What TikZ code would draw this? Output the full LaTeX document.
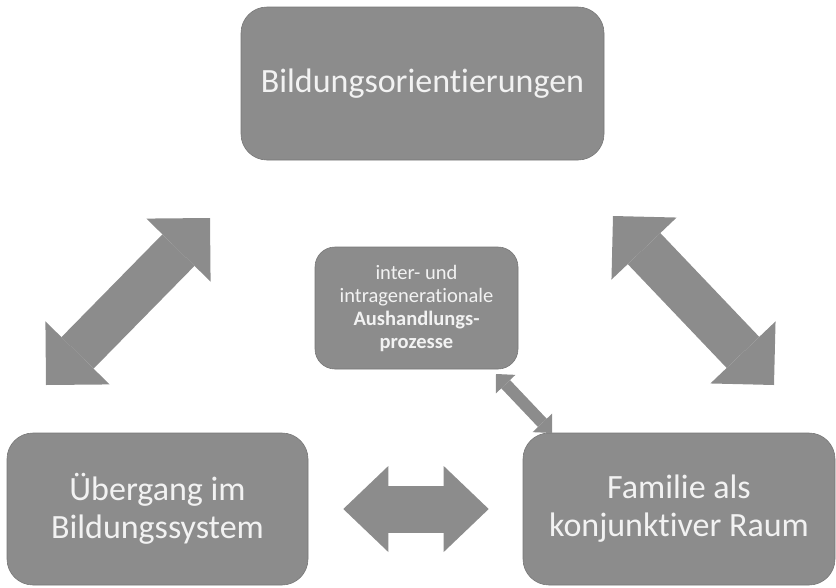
\documentclass[tikz,border=0pt]{standalone}
\usepackage{fontspec}
\setmainfont{Carlito}[Ligatures=NoCommon]
\usetikzlibrary{arrows.meta}
\definecolor{boxgray}{HTML}{8C8C8C}
\definecolor{boxtext}{HTML}{F2F2F2}
\tikzset{
  box/.style={fill=boxgray, draw=boxgray!85!black, line width=.6pt, text=boxtext, align=center, inner sep=0pt},
  bigbox/.style={box, rounded corners=26pt, font=\fontsize{34}{38}\selectfont},
  smallbox/.style={box, rounded corners=20pt, font=\fontsize{20.5}{23}\selectfont},
  fatarrow/.style n args={3}{draw=boxgray, line width=#1,
    {Triangle[length=#2,width=#3,line width=0pt]}-{Triangle[length=#2,width=#3,line width=0pt]}}
}

\begin{document}
\begin{tikzpicture}[x=1pt,y=-1pt]
\useasboundingbox (0,0) rectangle (836,587);
% boxes
\node[bigbox, minimum width=363pt, minimum height=153pt] (orient) at (422.5,83.5) {Bildungsorientierungen};
\node[smallbox, minimum width=203pt, minimum height=122pt] (aushandlung) at (416.5,308) {inter- und\\intragenerationale\\\textbf{Aushandlungs-}\\\textbf{prozesse}};
\node[bigbox, minimum width=301pt, minimum height=152pt] (uebergang) at (157.5,509) {Übergang im\\Bildungssystem};
\node[bigbox, minimum width=312pt, minimum height=152pt] (familie) at (679,509) {Familie als\\konjunktiver Raum};
% ends of the slanted arrows
\coordinate (ul) at (46,385);
\coordinate (uo) at (210,218);
\coordinate (fo) at (613,216);
\coordinate (fl) at (774,385);
\coordinate (ma) at (496,374);
\coordinate (mf) at (552,433);
% arrows
\draw[fatarrow={45pt}{45pt}{90pt}] (ul) -- (uo);
\draw[fatarrow={45pt}{45pt}{90pt}] (fo) -- (fl);
\draw[fatarrow={47pt}{45pt}{86pt}, shorten <=35pt, shorten >=34pt] (uebergang) -- (familie);
\draw[fatarrow={12pt}{14pt}{27pt}] (ma) -- (mf);
\end{tikzpicture}
\end{document}
